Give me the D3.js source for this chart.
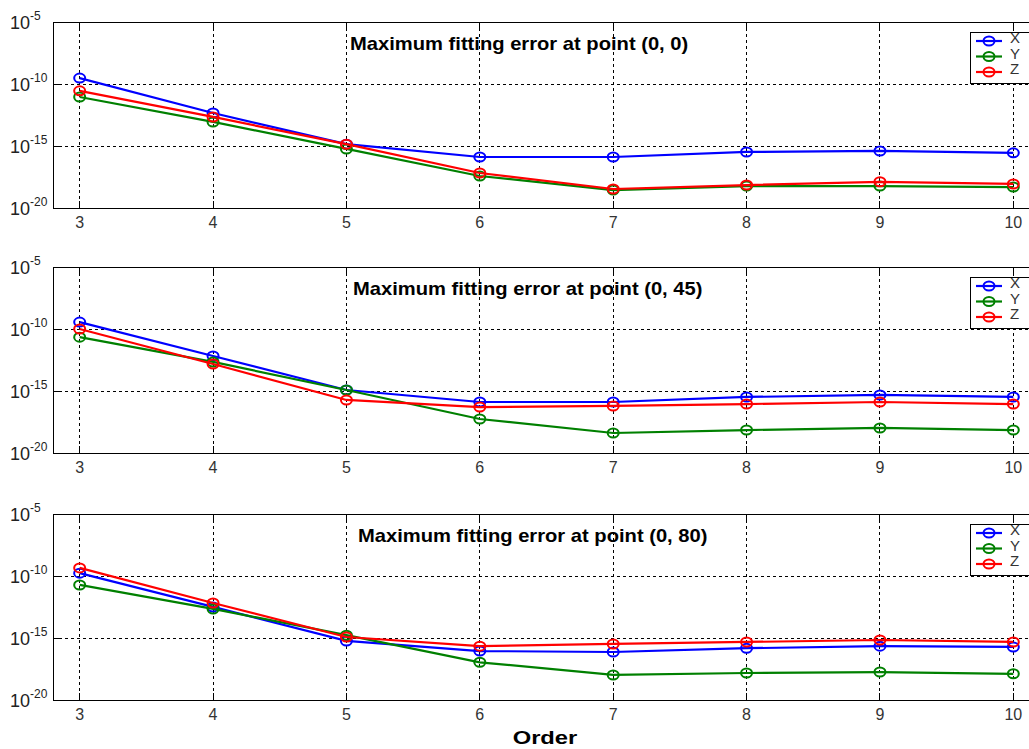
<!DOCTYPE html>
<html>
<head>
<meta charset="utf-8">
<script src="https://cdn.jsdelivr.net/npm/d3@7"></script>
<style>
  body { margin: 0; background: #fff; }
  svg { display: block; }
  text { font-family: "Liberation Sans", Arial, sans-serif; }
  .grid line, .box, .tick path { shape-rendering: crispEdges; }
</style>
</head>
<body>
<div id="chart"></div>
<script>
// data (values of the maximum fitting error)
const orders = [3, 4, 5, 6, 7, 8, 9, 10];
const seriesNames = ['X', 'Y', 'Z'];
const seriesColors = ['#0000ff', '#008000', '#ff0000'];
const panelTitles = [
    'Maximum fitting error at point (0, 0)',
    'Maximum fitting error at point (0, 45)',
    'Maximum fitting error at point (0, 80)'
];
const yTickExps = [-5, -10, -15, -20];

// point (0, 0)
const p1X = [3.0e-10, 4.6e-13, 1.4e-15, 1.3e-16, 1.3e-16, 3.3e-16, 4.0e-16, 2.8e-16];
const p1Y = [8.9e-12, 8.7e-14, 5.8e-16, 3.8e-18, 2.8e-19, 5.9e-19, 5.9e-19, 4.9e-19];
const p1Z = [2.8e-11, 2.2e-13, 1.4e-15, 6.6e-18, 3.4e-19, 7.1e-19, 1.3e-18, 8.7e-19];
// point (0, 45)
const p2X = [3.6e-10, 6.6e-13, 1.2e-15, 1.3e-16, 1.3e-16, 3.3e-16, 4.8e-16, 3.3e-16];
const p2Y = [2.2e-11, 2.2e-13, 1.2e-15, 5.5e-18, 4.1e-19, 7.1e-19, 1.05e-18, 7.1e-19];
const p2Z = [1.0e-10, 1.5e-13, 1.9e-16, 5.1e-17, 6.2e-17, 8.9e-17, 1.3e-16, 8.9e-17];
// point (0, 80)
const p3X = [1.7e-10, 3.2e-13, 5.8e-16, 8.9e-17, 7.4e-17, 1.5e-16, 2.2e-16, 1.9e-16];
const p3Y = [1.9e-11, 2.2e-13, 1.7e-15, 1.1e-17, 1.05e-18, 1.5e-18, 1.8e-18, 1.3e-18];
const p3Z = [4.5e-10, 6.6e-13, 1.2e-15, 2.2e-16, 3.3e-16, 4.8e-16, 6.9e-16, 4.8e-16];

const panels = [
    { title: panelTitles[0], series: [p1X, p1Y, p1Z] },
    { title: panelTitles[1], series: [p2X, p2Y, p2Z] },
    { title: panelTitles[2], series: [p3X, p3Y, p3Z] }
];

const width = 1029;
const height = 749;
const left = 53;
const right = 1040;       // the right edge of the axes runs off the picture
const panelTops = [22, 267, 514];
const panelH = 186;
const titleX = [350, 353, 358];

const svg = d3.select('#chart').append('svg')
    .attr('width', width)
    .attr('height', height);

const x = d3.scaleLinear().domain([2.8, 10.2]).range([left, right]);

panels.forEach((p, pi) => {
    const top = panelTops[pi];
    const bottom = top + panelH;
    const y = d3.scaleLog().domain([1e-20, 1e-5]).range([bottom, top]);
    const g = svg.append('g').attr('class', 'panel');

    // 网格
    g.append('g').attr('class', 'grid').selectAll('line')
        .data(yTickExps.slice(1, 3))
        .enter().append('line')
        .attr('x1', left).attr('x2', right)
        .attr('y1', d => y(Math.pow(10, d))).attr('y2', d => y(Math.pow(10, d)))
        .attr('stroke', '#000').attr('stroke-width', 1)
        .attr('stroke-dasharray', '3,3');

    g.append('g').attr('class', 'grid').selectAll('line')
        .data(orders)
        .enter().append('line')
        .attr('x1', d => x(d)).attr('x2', d => x(d))
        .attr('y1', top).attr('y2', bottom)
        .attr('stroke', '#000').attr('stroke-width', 1)
        .attr('stroke-dasharray', '3,3');

    // ticks inside the box
    g.append('g').attr('class', 'tick').selectAll('path')
        .data(orders)
        .enter().append('path')
        .attr('d', d => `M${x(d)},${bottom}v-7M${x(d)},${top}v7`)
        .attr('stroke', '#000').attr('stroke-width', 1);
    g.append('g').attr('class', 'tick').selectAll('path')
        .data(yTickExps)
        .enter().append('path')
        .attr('d', d => `M${left},${y(Math.pow(10, d))}h7`)
        .attr('stroke', '#000').attr('stroke-width', 1);

    // box
    g.append('rect')
        .attr('class', 'box')
        .attr('x', left).attr('y', top)
        .attr('width', right - left).attr('height', panelH)
        .attr('fill', 'none').attr('stroke', '#000').attr('stroke-width', 1);

    // y labels 10^n
    const yl = g.append('g').selectAll('text')
        .data(yTickExps)
        .enter().append('text')
        .attr('x', 10)
        .attr('y', d => y(Math.pow(10, d)) + 7)
        .attr('fill', '#222')
        .attr('font-size', 18);
    yl.append('tspan').text('10');
    yl.append('tspan').attr('dy', -9).attr('font-size', 12).text(d => d);

    // x labels
    g.append('g').selectAll('text')
        .data(orders)
        .enter().append('text')
        .attr('x', d => x(d))
        .attr('y', bottom + 20)
        .attr('text-anchor', 'middle')
        .attr('fill', '#333')
        .attr('font-size', 16)
        .text(d => d);

    // lines
    const line = d3.line()
        .x((d, i) => x(orders[i]))
        .y(d => y(d));

    p.series.forEach((s, si) => {
        g.append('path')
            .datum(s)
            .attr('d', line)
            .attr('fill', 'none')
            .attr('stroke', seriesColors[si])
            .attr('stroke-width', 2.2);
        g.append('g').selectAll('ellipse')
            .data(s)
            .enter().append('ellipse')
            .attr('cx', (d, i) => x(orders[i]))
            .attr('cy', d => y(d))
            .attr('rx', 5.5).attr('ry', 4.5)
            .attr('fill', 'none')
            .attr('stroke', seriesColors[si])
            .attr('stroke-width', 2);
    });

    // title
    g.append('text')
        .attr('transform', `translate(${titleX[pi]},${top + 28}) scale(1.12,1)`)
        .attr('font-size', 18)
        .attr('font-weight', 'bold')
        .attr('fill', '#000')
        .text(p.title);

    // legend
    const lg = g.append('g').attr('transform', `translate(970,${top + 10})`);
    lg.append('rect')
        .attr('class', 'box')
        .attr('x', 0).attr('y', 0)
        .attr('width', 80).attr('height', 51)
        .attr('fill', '#fff').attr('stroke', '#000').attr('stroke-width', 1);
    seriesNames.forEach((n, si) => {
        const ly = 9 + si * 15.5;
        lg.append('line')
            .attr('x1', 6).attr('x2', 32)
            .attr('y1', ly).attr('y2', ly)
            .attr('stroke', seriesColors[si]).attr('stroke-width', 2.2);
        lg.append('ellipse')
            .attr('cx', 19).attr('cy', ly)
            .attr('rx', 5.5).attr('ry', 4.5)
            .attr('fill', 'none')
            .attr('stroke', seriesColors[si]).attr('stroke-width', 2);
        lg.append('text')
            .attr('x', 40).attr('y', ly + 2)
            .attr('font-size', 15)
            .attr('fill', '#333')
            .text(n);
    });
});

svg.append('text')
    .attr('transform', `translate(545,744) scale(1.25,1)`)
    .attr('text-anchor', 'middle')
    .attr('font-size', 19)
    .attr('font-weight', 'bold')
    .attr('fill', '#000')
    .text('Order');
</script>
</body>
</html>
